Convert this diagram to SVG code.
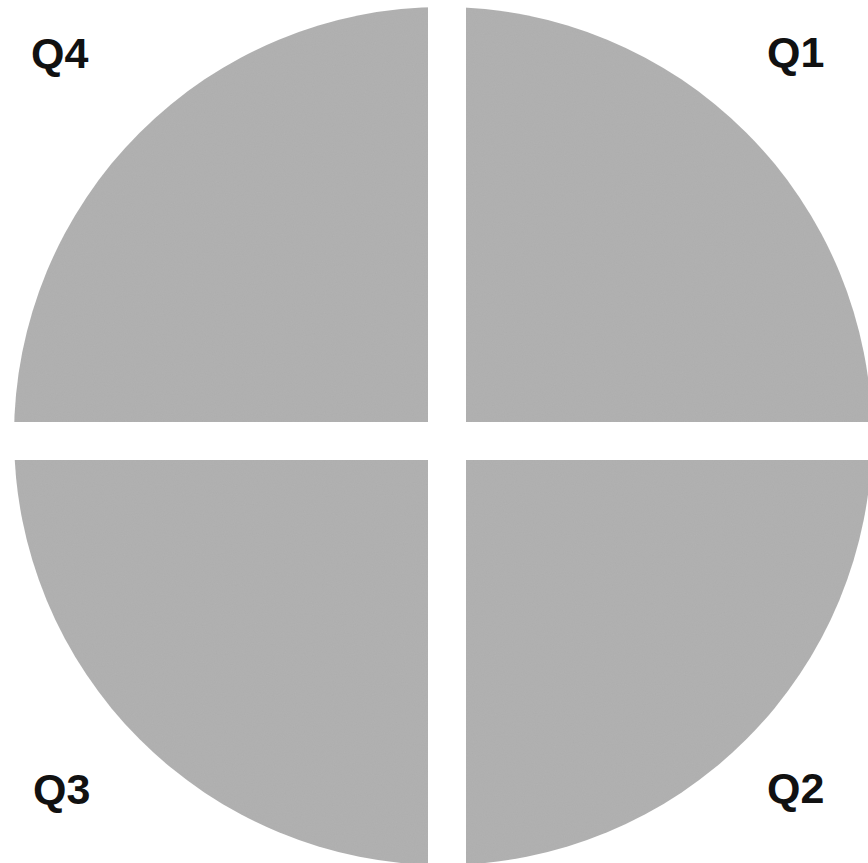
<svg xmlns="http://www.w3.org/2000/svg" width="868" height="863" viewBox="0 0 868 863">
  <style>
    .quad { fill: #b2b2b2; }
    .lbl { font-family: "Liberation Sans", Arial, sans-serif; font-weight: bold; font-size: 43px; fill: #111; }
  </style>
  <defs>
    <clipPath id="disc">
      <circle cx="443" cy="436" r="429"/>
    </clipPath>
    <filter id="grain" x="0" y="0" width="100%" height="100%">
      <feTurbulence type="fractalNoise" baseFrequency="0.9" numOctaves="2" seed="3" result="n"/>
      <feColorMatrix type="matrix" values="0 0 0 0 0  0 0 0 0 0  0 0 0 0 0  0 0 0 0.06 0" in="n" result="g"/>
      <feComposite in="g" in2="SourceGraphic" operator="in" result="gg"/>
      <feMerge><feMergeNode in="SourceGraphic"/><feMergeNode in="gg"/></feMerge>
    </filter>
  </defs>
  <rect width="868" height="863" fill="#ffffff"/>
  <g clip-path="url(#disc)" filter="url(#grain)">
    <g id="q4"><rect class="quad" x="0" y="0" width="428" height="422"/></g>
    <g id="q1"><rect class="quad" x="466" y="0" width="402" height="422"/></g>
    <g id="q3"><rect class="quad" x="0" y="460" width="428" height="403"/></g>
    <g id="q2"><rect class="quad" x="466" y="460" width="402" height="403"/></g>
  </g>
  <g id="labels">
    <text class="lbl" x="31" y="68">Q4</text>
    <text class="lbl" x="767" y="67">Q1</text>
    <text class="lbl" x="33" y="804">Q3</text>
    <text class="lbl" x="767" y="803">Q2</text>
  </g>
</svg>
